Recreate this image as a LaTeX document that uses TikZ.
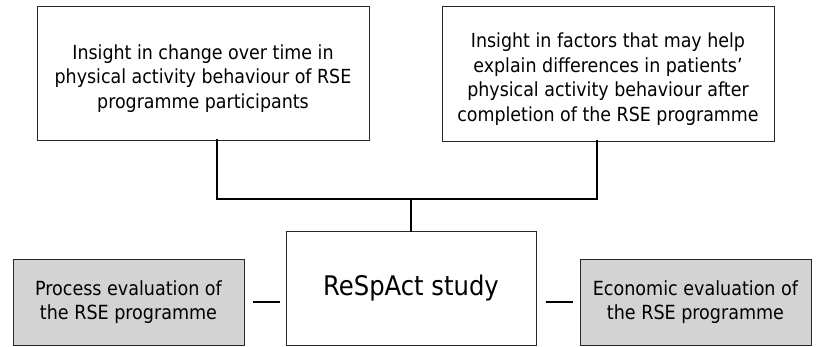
\documentclass[tikz,border=0pt]{standalone}
\usepackage{fontspec}
\setmainfont{DejaVu Sans Condensed}
\usetikzlibrary{calc}
\definecolor{boxgray}{RGB}{211,211,211}
\definecolor{edgegray}{RGB}{40,40,40}
\newcommand{\firstup}{\rule{0pt}{26pt}}
\begin{document}
\begin{tikzpicture}[x=1pt,y=1pt,
  box/.style={draw=edgegray,line width=1pt,rectangle,align=center,inner sep=0pt,
    font=\fontsize{19.4}{24.4}\selectfont},
  graybox/.style={box,fill=boxgray,font=\fontsize{19.5}{23.5}\selectfont},
  conn/.style={line width=2.8pt,line cap=rect},
  dashline/.style={line width=1.3pt}]
\useasboundingbox (0,0) rectangle (816,-346);
\fill[white] (0,0) rectangle (816,-346);
\node[box,minimum width=332,minimum height=134] (b1) at (203,-73)
  {\firstup Insight in change over time in\\physical activity behaviour of RSE\\programme participants};
\node[box,minimum width=332,minimum height=135] (b2) at (608,-73.5)
  {\firstup Insight in factors that may help\\explain differences in patients'\\physical activity behaviour after\\completion of the RSE programme};
\node[box,minimum width=250,minimum height=114,font=\fontsize{27}{32}\selectfont] (c) at (411,-288)
  {ReSpAct study};
\node[graybox,minimum width=231,minimum height=86] (p) at (128.5,-302)
  {Process evaluation of\\the RSE programme};
\node[graybox,minimum width=231,minimum height=86] (e) at (695.5,-302)
  {Economic evaluation of\\the RSE programme};
\coordinate (j) at (411,-199);
\draw[conn] ([xshift=14pt]b1.south) |- (j) -| ([xshift=-11pt]b2.south);
\draw[conn] (j) -- (c.north);
\draw[dashline] ($(p.east)+(8,0)$) -- ($(p.east -| c.west)+(-6,0)$);
\draw[dashline] ($(e.west -| c.east)+(9,0)$) -- ($(e.west)+(-7,0)$);
\end{tikzpicture}
\end{document}
